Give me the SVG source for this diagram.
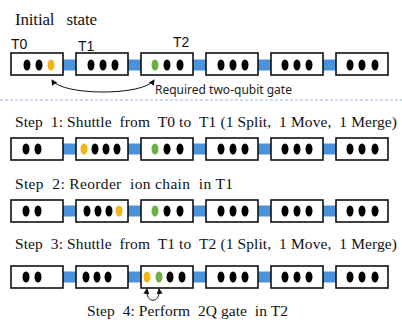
<svg xmlns="http://www.w3.org/2000/svg" width="402" height="320" viewBox="0 0 402 320">
  <style>
    .cap { font-family: 'Liberation Serif', 'DejaVu Serif', serif; font-size: 15.5px; fill: #111; white-space: pre; }
    .title { font-size: 17px; }
    .tl { font-family: 'Liberation Sans', Arial, sans-serif; font-size: 14px; fill: #111; }
    .note { font-family: 'Noto Sans', 'Liberation Sans', sans-serif; font-size: 12px; fill: #222; }
    .bar { fill: #4C92DA; }
    .trap { fill: #fff; stroke: #111; stroke-width: 1.6; }
    .ion { fill: #000; }
    .q0 { fill: #F2B511; }
    .q1 { fill: #6BAF45; }
    .link { fill: none; stroke: #111; stroke-width: 1; }
    .sep { stroke: #9DB4D6; stroke-width: 1; stroke-dasharray: 3 2; }
  </style>
  <defs>
    <marker id="tip" viewBox="0 0 6 6" refX="5" refY="3" markerWidth="6" markerHeight="6" orient="auto-start-reverse" markerUnits="userSpaceOnUse">
      <path d="M0,0 L6,3 L0,6 z" fill="#111"/>
    </marker>
    <!-- one trap zone: white box, ions placed per row -->
    <rect id="box" class="trap" width="52" height="22"/>
    <ellipse id="ion" cx="0" cy="0" rx="3.5" ry="5.5"/>
  </defs>

  <rect width="402" height="320" fill="#fff"/>

  <!-- ===== Initial state ===== -->
  <text class="cap title" x="15" y="25" textLength="82" lengthAdjust="spacing">Initial   state</text>
  <text class="tl" x="11" y="49">T0</text>
  <text class="tl" x="78" y="51">T1</text>
  <text class="tl" x="173" y="47">T2</text>

  <g id="row0">
    <rect class="bar" x="30" y="59.5" width="340" height="11"/>
    <g id="r0-t0"><use href="#box" x="11" y="53"/>
      <use href="#ion" class="ion" x="27" y="65"/><use href="#ion" class="ion" x="39" y="65"/><use href="#ion" class="q0" x="51" y="65"/></g>
    <g id="r0-t1"><use href="#box" x="76" y="53"/>
      <use href="#ion" class="ion" x="91" y="65"/><use href="#ion" class="ion" x="103" y="65"/><use href="#ion" class="ion" x="115" y="65"/></g>
    <g id="r0-t2"><use href="#box" x="141" y="53"/>
      <use href="#ion" class="q1" x="155" y="65"/><use href="#ion" class="ion" x="167" y="65"/><use href="#ion" class="ion" x="180" y="65"/></g>
    <g id="r0-t3"><use href="#box" x="206" y="53"/>
      <use href="#ion" class="ion" x="221" y="65"/><use href="#ion" class="ion" x="233" y="65"/><use href="#ion" class="ion" x="245" y="65"/></g>
    <g id="r0-t4"><use href="#box" x="271" y="53"/>
      <use href="#ion" class="ion" x="285" y="65"/><use href="#ion" class="ion" x="297" y="65"/><use href="#ion" class="ion" x="309" y="65"/></g>
    <g id="r0-t5"><use href="#box" x="336" y="53"/>
      <use href="#ion" class="ion" x="350" y="65"/><use href="#ion" class="ion" x="362" y="65"/><use href="#ion" class="ion" x="375" y="65"/></g>
  </g>

  <g id="connectors">
    <path class="link" d="M52,80 C62,96 144,96 154,80" marker-start="url(#tip)" marker-end="url(#tip)"/>
    <path class="link" d="M147,289 C145,304 161,304 159,289" marker-start="url(#tip)" marker-end="url(#tip)"/>
  </g>
  <text class="note" x="155" y="94">Required two-qubit gate</text>

  <line class="sep" x1="0" y1="100" x2="402" y2="100"/>

  <!-- ===== Step 1 ===== -->
  <text class="cap" x="15" y="127" textLength="382" lengthAdjust="spacing">Step  1: Shuttle  from  T0 to  T1 (1 Split,  1 Move,  1 Merge)</text>
  <g id="row1">
    <rect class="bar" x="30" y="143.5" width="340" height="11"/>
    <g id="r1-t0"><use href="#box" x="11" y="138"/>
      <use href="#ion" class="ion" x="26" y="149"/><use href="#ion" class="ion" x="38" y="149"/></g>
    <g id="r1-t1"><use href="#box" x="76" y="138"/>
      <use href="#ion" class="q0" x="84" y="149"/><use href="#ion" class="ion" x="95" y="149"/><use href="#ion" class="ion" x="106" y="149"/><use href="#ion" class="ion" x="117" y="149"/></g>
    <g id="r1-t2"><use href="#box" x="141" y="138"/>
      <use href="#ion" class="q1" x="155" y="149"/><use href="#ion" class="ion" x="167" y="149"/><use href="#ion" class="ion" x="180" y="149"/></g>
    <g id="r1-t3"><use href="#box" x="206" y="138"/>
      <use href="#ion" class="ion" x="221" y="149"/><use href="#ion" class="ion" x="233" y="149"/><use href="#ion" class="ion" x="245" y="149"/></g>
    <g id="r1-t4"><use href="#box" x="271" y="138"/>
      <use href="#ion" class="ion" x="285" y="149"/><use href="#ion" class="ion" x="297" y="149"/><use href="#ion" class="ion" x="309" y="149"/></g>
    <g id="r1-t5"><use href="#box" x="336" y="138"/>
      <use href="#ion" class="ion" x="350" y="149"/><use href="#ion" class="ion" x="362" y="149"/><use href="#ion" class="ion" x="375" y="149"/></g>
  </g>

  <!-- ===== Step 2 ===== -->
  <text class="cap" x="15" y="189" textLength="218" lengthAdjust="spacing">Step  2: Reorder  ion chain  in T1</text>
  <g id="row2">
    <rect class="bar" x="30" y="205.5" width="340" height="11"/>
    <g id="r2-t0"><use href="#box" x="11" y="200"/>
      <use href="#ion" class="ion" x="26" y="211"/><use href="#ion" class="ion" x="38" y="211"/></g>
    <g id="r2-t1"><use href="#box" x="76" y="200"/>
      <use href="#ion" class="ion" x="87" y="211"/><use href="#ion" class="ion" x="98" y="211"/><use href="#ion" class="ion" x="109" y="211"/><use href="#ion" class="q0" x="119" y="211"/></g>
    <g id="r2-t2"><use href="#box" x="141" y="200"/>
      <use href="#ion" class="q1" x="155" y="211"/><use href="#ion" class="ion" x="167" y="211"/><use href="#ion" class="ion" x="180" y="211"/></g>
    <g id="r2-t3"><use href="#box" x="206" y="200"/>
      <use href="#ion" class="ion" x="221" y="211"/><use href="#ion" class="ion" x="233" y="211"/><use href="#ion" class="ion" x="245" y="211"/></g>
    <g id="r2-t4"><use href="#box" x="271" y="200"/>
      <use href="#ion" class="ion" x="285" y="211"/><use href="#ion" class="ion" x="297" y="211"/><use href="#ion" class="ion" x="309" y="211"/></g>
    <g id="r2-t5"><use href="#box" x="336" y="200"/>
      <use href="#ion" class="ion" x="350" y="211"/><use href="#ion" class="ion" x="362" y="211"/><use href="#ion" class="ion" x="375" y="211"/></g>
  </g>

  <!-- ===== Step 3 ===== -->
  <text class="cap" x="15" y="249" textLength="382" lengthAdjust="spacing">Step  3: Shuttle  from  T1 to  T2 (1 Split,  1 Move,  1 Merge)</text>
  <g id="row3">
    <rect class="bar" x="30" y="271.5" width="340" height="11"/>
    <g id="r3-t0"><use href="#box" x="11" y="266"/>
      <use href="#ion" class="ion" x="26" y="277"/><use href="#ion" class="ion" x="38" y="277"/></g>
    <g id="r3-t1"><use href="#box" x="76" y="266"/>
      <use href="#ion" class="ion" x="86" y="277"/><use href="#ion" class="ion" x="97" y="277"/><use href="#ion" class="ion" x="108" y="277"/></g>
    <g id="r3-t2"><use href="#box" x="141" y="266"/>
      <use href="#ion" class="q0" x="147" y="277"/><use href="#ion" class="q1" x="159" y="277"/><use href="#ion" class="ion" x="170" y="277"/><use href="#ion" class="ion" x="182" y="277"/></g>
    <g id="r3-t3"><use href="#box" x="206" y="266"/>
      <use href="#ion" class="ion" x="221" y="277"/><use href="#ion" class="ion" x="233" y="277"/><use href="#ion" class="ion" x="245" y="277"/></g>
    <g id="r3-t4"><use href="#box" x="271" y="266"/>
      <use href="#ion" class="ion" x="285" y="277"/><use href="#ion" class="ion" x="297" y="277"/><use href="#ion" class="ion" x="309" y="277"/></g>
    <g id="r3-t5"><use href="#box" x="336" y="266"/>
      <use href="#ion" class="ion" x="350" y="277"/><use href="#ion" class="ion" x="362" y="277"/><use href="#ion" class="ion" x="375" y="277"/></g>
  </g>

  <!-- ===== Step 4 ===== -->
  <text class="cap" x="87" y="316" textLength="201" lengthAdjust="spacing">Step  4: Perform  2Q gate  in T2</text>
</svg>
